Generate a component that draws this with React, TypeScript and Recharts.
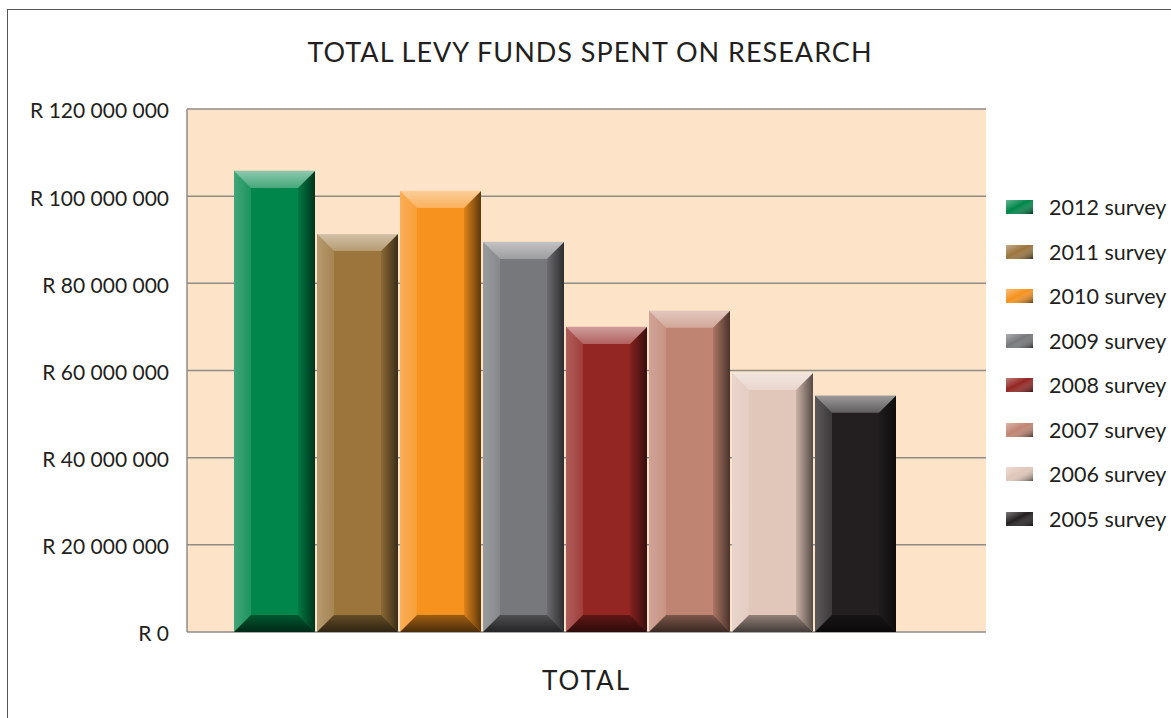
import { BarChart, Bar, XAxis, YAxis, CartesianGrid, Legend } from 'recharts';

const surveys = [
  '2012 survey',
  '2011 survey',
  '2010 survey',
  '2009 survey',
  '2008 survey',
  '2007 survey',
  '2006 survey',
  '2005 survey',
];
const spend = [105800000, 91300000, 101200000, 89500000, 70000000, 73700000, 59400000, 54200000];
const colors = ['#00864a', '#9b753c', '#f7921e', '#77787b', '#932522', '#c08472', '#e1c6ba', '#231f20'];
const yTicks = [0, 20000000, 40000000, 60000000, 80000000, 100000000, 120000000];
const category = 'TOTAL';

const row: Record<string, string | number> = { name: category };
surveys.forEach((s, i) => {
  row[s] = spend[i];
});
const data = [row];

const FONT = 'Lato, "Open Sans", sans-serif';
const INK = '#231f20';

const formatRand = (v: number) => 'R ' + String(v).replace(/\B(?=(\d{3})+(?!\d))/g, ' ');

// bevelled "3D" bar like the original export
function BevelBar(props: any) {
  const { x, y, width: w, height: h, fill } = props;
  if (!w || !h) return null;
  const b = Math.min(17, w / 4, h / 2);
  return (
    <g>
      <rect x={x} y={y} width={w} height={h} fill={fill} />
      <polygon points={`${x},${y} ${x + b},${y + b} ${x + b},${y + h - b} ${x},${y + h}`} fill="url(#bevelLeft)" />
      <polygon
        points={`${x + w},${y} ${x + w - b},${y + b} ${x + w - b},${y + h - b} ${x + w},${y + h}`}
        fill="url(#bevelRight)"
      />
      <polygon points={`${x},${y} ${x + w},${y} ${x + w - b},${y + b} ${x + b},${y + b}`} fill="url(#bevelTop)" />
      <polygon
        points={`${x},${y + h} ${x + b},${y + h - b} ${x + w - b},${y + h - b} ${x + w},${y + h}`}
        fill="url(#bevelBottom)"
      />
    </g>
  );
}

function SurveyLegend({ payload }: any) {
  const items = [...(payload || [])].sort(
    (a: any, b: any) => surveys.indexOf(a.value) - surveys.indexOf(b.value)
  );
  return (
    <div style={{ fontFamily: FONT, color: INK }}>
      {items.map((p: any) => (
        <div key={p.value} style={{ display: 'flex', alignItems: 'center', height: 44.5 }}>
          <svg width={27} height={14} style={{ display: 'block' }}>
            <rect width={27} height={14} fill={p.color} />
            <rect width={27} height={14} fill="url(#legendShade)" />
          </svg>
          <span style={{ marginLeft: 16, fontSize: 21.5, whiteSpace: 'nowrap' }}>{p.value}</span>
        </div>
      ))}
    </div>
  );
}

export default function App() {
  return (
    <div
      style={{
        position: 'absolute',
        left: 0,
        top: 0,
        width: 1171,
        height: 718,
        overflow: 'hidden',
        background: '#fff',
      }}
    >
      {/* frame of the original page */}
      <div
        style={{
          position: 'absolute',
          left: 7,
          top: 9,
          width: 1300,
          height: 900,
          border: '1.5px solid #555',
        }}
      />
      <div
        style={{
          position: 'absolute',
          left: 0,
          width: 1180,
          top: 35,
          textAlign: 'center',
          fontFamily: FONT,
          fontSize: 27,
          letterSpacing: 1,
          color: INK,
        }}
      >
        TOTAL LEVY FUNDS SPENT ON RESEARCH
      </div>
      <div style={{ position: 'absolute', left: 0, top: 0 }}>
        <BarChart
          width={1171}
          height={718}
          data={data}
          margin={{ top: 109, right: 185, bottom: 0, left: 0 }}
          barCategoryGap={47}
          barGap={2}
        >
          <defs>
            <linearGradient id="bevelLeft" x1="0" y1="0" x2="1" y2="0">
              <stop offset="0%" stopColor="#fff" stopOpacity={0.26} />
              <stop offset="100%" stopColor="#fff" stopOpacity={0.12} />
            </linearGradient>
            <linearGradient id="bevelRight" x1="0" y1="0" x2="1" y2="0">
              <stop offset="0%" stopColor="#000" stopOpacity={0.1} />
              <stop offset="100%" stopColor="#000" stopOpacity={0.62} />
            </linearGradient>
            <linearGradient id="bevelTop" x1="0" y1="0" x2="0" y2="1">
              <stop offset="0%" stopColor="#fff" stopOpacity={0.55} />
              <stop offset="100%" stopColor="#fff" stopOpacity={0.28} />
            </linearGradient>
            <linearGradient id="bevelBottom" x1="0" y1="0" x2="0" y2="1">
              <stop offset="0%" stopColor="#000" stopOpacity={0.35} />
              <stop offset="100%" stopColor="#000" stopOpacity={0.7} />
            </linearGradient>
            <linearGradient id="legendShade" x1="0" y1="0" x2="1" y2="1">
              <stop offset="0%" stopColor="#fff" stopOpacity={0.4} />
              <stop offset="45%" stopColor="#fff" stopOpacity={0} />
              <stop offset="100%" stopColor="#000" stopOpacity={0.6} />
            </linearGradient>
          </defs>
          <CartesianGrid vertical={false} fill="#fde3c8" stroke="#918b86" strokeWidth={1.5} />
          <XAxis
            dataKey="name"
            height={86}
            tick={false}
            tickLine={false}
            axisLine={false}
            padding={{ left: 0, right: 45 }}
            label={{
              value: category,
              position: 'insideTop',
              offset: 40,
              fontSize: 26,
              letterSpacing: 2,
              fill: INK,
              fontFamily: FONT,
            }}
          />
          <YAxis
            width={187}
            domain={[0, 120000000]}
            ticks={yTicks}
            interval={0}
            tickFormatter={formatRand}
            tickLine={false}
            tickSize={0}
            tickMargin={18}
            axisLine={{ stroke: '#918b86', strokeWidth: 1.5 }}
            tick={{ fontSize: 21, fill: INK, fontFamily: FONT, dy: 2 }}
          />
          <Legend
            layout="vertical"
            align="center"
            verticalAlign="middle"
            wrapperStyle={{ left: 1006, top: 185, width: 165 }}
            content={<SurveyLegend />}
          />
          {surveys.map((s, i) => (
            <Bar key={s} dataKey={s} fill={colors[i]} shape={<BevelBar />} isAnimationActive={false} />
          ))}
        </BarChart>
      </div>
    </div>
  );
}
